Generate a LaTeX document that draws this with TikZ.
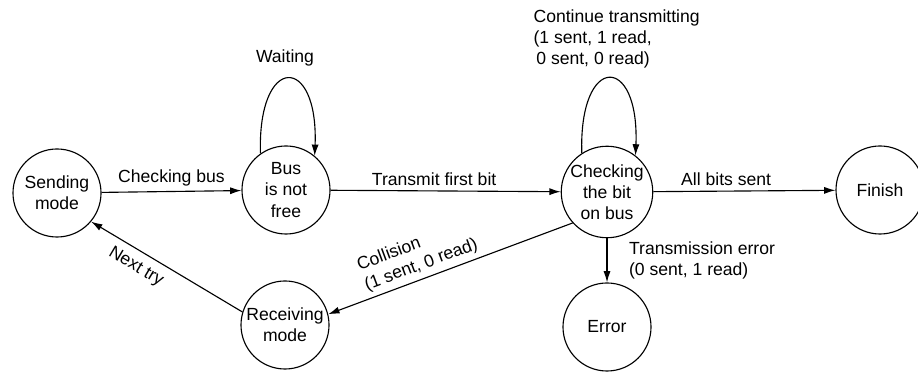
\documentclass[tikz,border=0pt]{standalone}
\usepackage{fontspec}
\setmainfont{Liberation Sans}
\usepackage{tikz}
\usetikzlibrary{arrows.meta}
\tikzstyle{phase}=[circle,draw,minimum size=2.2cm,inner sep=0pt,align=center]
\tikzstyle{arr}=[-{Latex[length=8pt,width=5pt]}]

\begin{document}
\begin{tikzpicture}[x=0.025cm,y=0.025cm,line width=0.8pt,font=\fontsize{12.5}{15}\selectfont]
      \useasboundingbox (0,0) rectangle (918,372);
      % states
      \node[phase] (send) at (57,179) {Sending\\mode};
      \node[phase] (bus) at (286,182) {Bus\\is not\\free};
      \node[phase] (check) at (607,180) {Checking\\the bit\\on bus};
      \node[phase] (finish) at (880,182) {Finish};
      \node[phase] (error) at (607,45) {Error};
      \node[phase] (recv) at (285,47) {Receiving\\mode};
      % transitions
      \draw[arr] (send) -- node[above] {Checking bus} (bus);
      \draw[arr] (bus) -- node[above,pos=0.45] {Transmit first bit} (check);
      \draw[arr] (check) -- node[above,pos=0.4] {All bits sent} (finish);
      \draw[arr] (check) -- node[right=12pt,align=left] {Transmission error\\(0 sent, 1 read)} (error);
      \draw[arr] (check.222) -- node[sloped,above,pos=0.6,align=left] {Collision\\(1 sent, 0 read)} (recv.14);
      \draw[arr] (recv.163) -- node[sloped,below=2pt,pos=0.65] {Next try} (send.-40);
      % self loops
      \draw[arr] (bus.125) .. controls +(-3,100) and +(4,102) .. (bus.50);
      \node (wait) at (285,314) {Waiting};
      \draw[arr] (check.123) .. controls +(-3,100) and +(4,102) .. (check.52);
      \node[anchor=north west,align=left,inner sep=0pt] (cont) at (533,363)
        {Continue transmitting\\(1 sent, 1 read,\\\hspace{2pt}0 sent, 0 read)};
\end{tikzpicture}
\end{document}
